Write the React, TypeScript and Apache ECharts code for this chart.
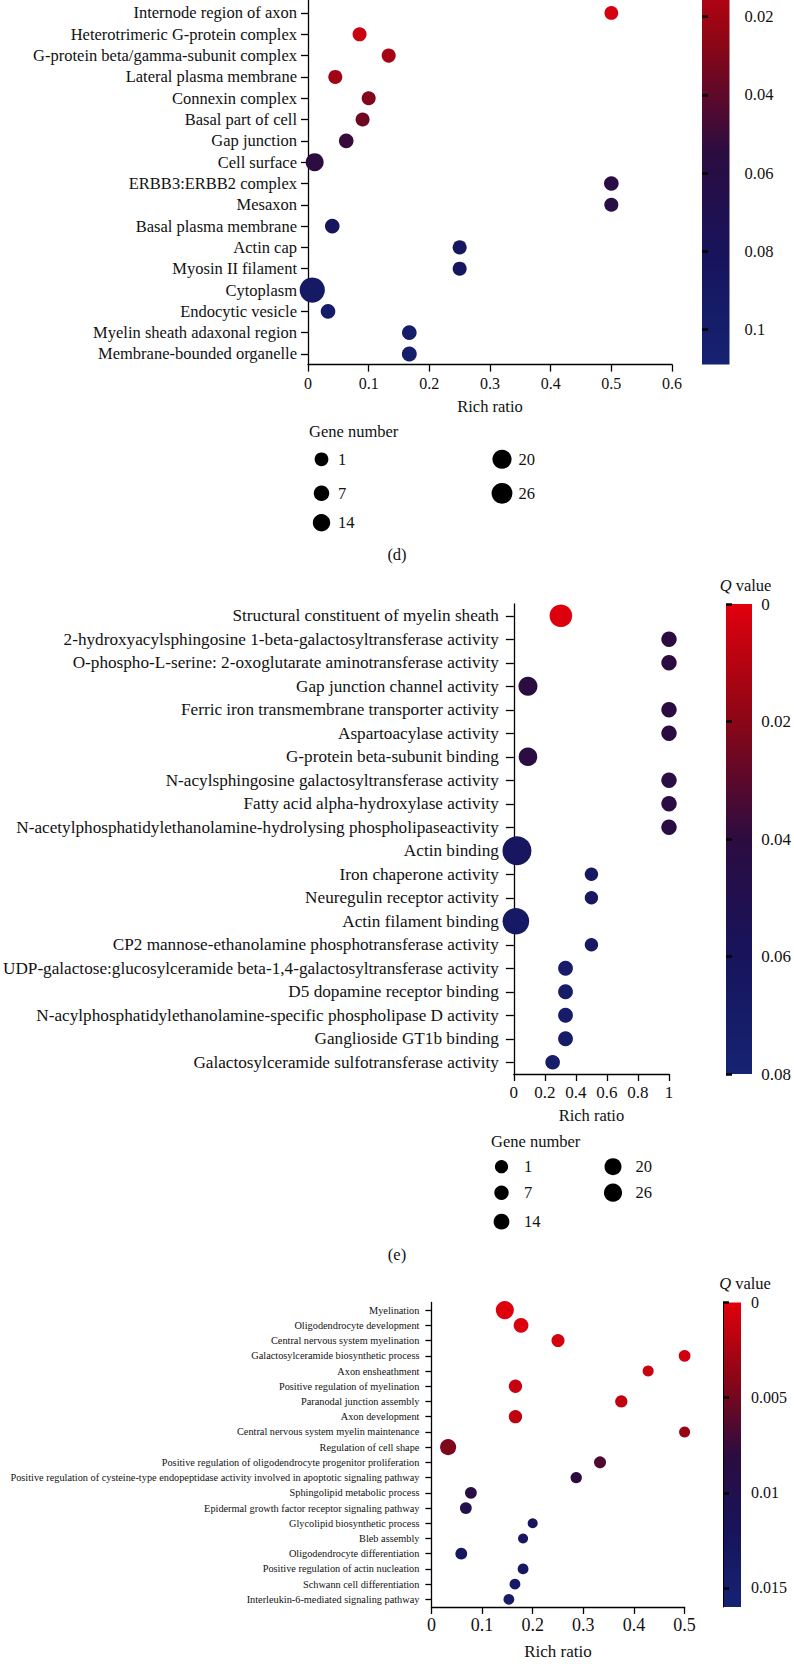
import React, { useEffect, useRef } from "react";
import * as echarts from "echarts";

const FONT = "'Liberation Serif', 'Times New Roman', serif";
const INK = "#111111";

// ---------- Panel (d): cellular component ----------
const dHiddenRows = [" ", "  ", "   "]; // rows cut off at the top of the figure
const dTerms = [
  "Internode region of axon",
  "Heterotrimeric G-protein complex",
  "G-protein beta/gamma-subunit complex",
  "Lateral plasma membrane",
  "Connexin complex",
  "Basal part of cell",
  "Gap junction",
  "Cell surface",
  "ERBB3:ERBB2 complex",
  "Mesaxon",
  "Basal plasma membrane",
  "Actin cap",
  "Myosin II filament",
  "Cytoplasm",
  "Endocytic vesicle",
  "Myelin sheath adaxonal region",
  "Membrane-bounded organelle",
];
const dRichRatio = [0.5, 0.085, 0.133, 0.045, 0.1, 0.09, 0.063, 0.011, 0.5, 0.5, 0.04, 0.25, 0.25, 0.007, 0.033, 0.167, 0.167];
const dQValue = [0.004, 0.007, 0.019, 0.02, 0.03, 0.035, 0.051, 0.055, 0.058, 0.059, 0.083, 0.087, 0.088, 0.093, 0.096, 0.1, 0.101];
const dGeneNumber = [1, 2, 2, 2, 2, 2, 4, 16, 4, 2, 4, 2, 2, 42, 4, 4, 5];
const dXTicks = { min: 0, max: 0.6, interval: 0.1 };
const dQMax = 0.109;
const dQTicks = [0.02, 0.04, 0.06, 0.08, 0.1];

// ---------- Panel (e): molecular function ----------
const eTerms = [
  "Structural constituent of myelin sheath",
  "2-hydroxyacylsphingosine 1-beta-galactosyltransferase activity",
  "O-phospho-L-serine: 2-oxoglutarate aminotransferase activity",
  "Gap junction channel activity",
  "Ferric iron transmembrane transporter activity",
  "Aspartoacylase activity",
  "G-protein beta-subunit binding",
  "N-acylsphingosine galactosyltransferase activity",
  "Fatty acid alpha-hydroxylase activity",
  "N-acetylphosphatidylethanolamine-hydrolysing phospholipaseactivity",
  "Actin binding",
  "Iron chaperone activity",
  "Neuregulin receptor activity",
  "Actin filament binding",
  "CP2 mannose-ethanolamine phosphotransferase activity",
  "UDP-galactose:glucosylceramide beta-1,4-galactosyltransferase activity",
  "D5 dopamine receptor binding",
  "N-acylphosphatidylethanolamine-specific phospholipase D activity",
  "Ganglioside GT1b binding",
  "Galactosylceramide sulfotransferase activity",
];
const eRichRatio = [0.303, 1, 1, 0.091, 1, 1, 0.091, 1, 1, 1, 0.02, 0.5, 0.5, 0.013, 0.5, 0.333, 0.333, 0.333, 0.333, 0.25];
const eQValue = [0.001, 0.04, 0.04, 0.041, 0.041, 0.041, 0.042, 0.042, 0.042, 0.042, 0.063, 0.065, 0.065, 0.066, 0.066, 0.07, 0.07, 0.07, 0.07, 0.073];
const eGeneNumber = [48, 12, 12, 30, 12, 12, 28, 12, 12, 12, 80, 2, 2, 68, 2, 9, 9, 9, 9, 8];
const eXTicks = { min: 0, max: 1, interval: 0.2 };
const eQMax = 0.08;
const eQTicks = [0, 0.02, 0.04, 0.06, 0.08];

// ---------- Panel (f): biological process ----------
const fTerms = [
  "Myelination",
  "Oligodendrocyte development",
  "Central nervous system myelination",
  "Galactosylceramide biosynthetic process",
  "Axon ensheathment",
  "Positive regulation of myelination",
  "Paranodal junction assembly",
  "Axon development",
  "Central nervous system myelin maintenance",
  "Regulation of cell shape",
  "Positive regulation of oligodendrocyte progenitor proliferation",
  "Positive regulation of cysteine-type endopeptidase activity involved in apoptotic signaling pathway",
  "Sphingolipid metabolic process",
  "Epidermal growth factor receptor signaling pathway",
  "Glycolipid biosynthetic process",
  "Bleb assembly",
  "Oligodendrocyte differentiation",
  "Positive regulation of actin nucleation",
  "Schwann cell differentiation",
  "Interleukin-6-mediated signaling pathway",
];
const fRichRatio = [0.145, 0.177, 0.25, 0.5, 0.428, 0.166, 0.375, 0.166, 0.5, 0.033, 0.333, 0.286, 0.078, 0.068, 0.2, 0.181, 0.059, 0.181, 0.165, 0.153];
const fQValue = [0.0001, 0.0003, 0.0006, 0.0008, 0.001, 0.0012, 0.0014, 0.0015, 0.0035, 0.0045, 0.0065, 0.0082, 0.0085, 0.0098, 0.012, 0.0125, 0.0128, 0.013, 0.0135, 0.014];
const fGeneNumber = [33, 20, 13, 8, 5, 14, 10, 14, 5, 25, 9, 6, 8, 8, 1, 1, 8, 4, 4, 4];
const fXTicks = { min: 0, max: 0.5, interval: 0.1 };
const fQMax = 0.016;
const fQTicks = [0, 0.005, 0.01, 0.015];

// Gene number legend entries
const geneLegendCol1 = [1, 7, 14];
const geneLegendCol2 = [20, 26];

// Colour scale (low Q = red, high Q = navy)
const Q_COLORS = ["#e1000d", "#8a0616", "#2c0c40", "#17145c", "#152372"];

const sizeD = (n: number) => 13.5 + 0.28 * n;
const sizeE = (n: number) => 13 + 0.2 * n;
const sizeF = (n: number) => 9.8 + 0.25 * n;

// The figure is cropped at the top: the canvas starts OFF px above the page.
const OFF = 80;

// Layout (page pixels; OFF is added when drawing)
const L = {
  d: { left: 308, top: -61.6, width: 364, height: 426.2, cb: { left: 702, width: 27.5 } },
  e: { left: 490, top: 604, width: 179, height: 470, cb: { left: 726, width: 26 } },
  f: { left: 431.4, top: 1302.5, width: 253.2, height: 304.5, cb: { left: 723, width: 18 } },
};

const axisLine = { show: true, onZero: false, lineStyle: { color: "#000", width: 1.3 } };
const axisTickStyle = { color: "#000", width: 1.3 };

function catAxis(gridIndex: number, data: string[], fontSize: number, margin: number, tickLen: number) {
  return {
    type: "category",
    gridIndex,
    data,
    inverse: true,
    axisLine,
    axisTick: { show: true, alignWithLabel: true, length: tickLen, lineStyle: axisTickStyle },
    axisLabel: { interval: 0, fontSize, fontFamily: FONT, color: INK, margin },
    splitLine: { show: false },
  };
}

function valAxis(gridIndex: number, t: { min: number; max: number; interval: number }, fontSize: number, margin: number, nameSize: number, nameGap: number) {
  return {
    type: "value",
    gridIndex,
    min: t.min,
    max: t.max,
    interval: t.interval,
    axisLine,
    axisTick: { show: true, length: 7, lineStyle: axisTickStyle },
    axisLabel: { fontSize, fontFamily: FONT, color: INK, margin, showMaxLabel: true, showMinLabel: true },
    splitLine: { show: false },
    name: "Rich ratio",
    nameLocation: "middle",
    nameGap,
    nameTextStyle: { fontSize: nameSize, fontFamily: FONT, color: INK },
  };
}

function cbAxis(gridIndex: number, max: number, ticks: number[], fontSize: number, margin: number, showLine: boolean) {
  return {
    type: "value",
    gridIndex,
    min: 0,
    max,
    inverse: true,
    position: "right",
    z: 10,
    axisLine: { show: showLine, lineStyle: { color: "#000", width: 1 } },
    axisTick: { show: true, length: 6, lineStyle: { color: "#000", width: 2.5 }, customValues: ticks },
    axisLabel: { fontSize, fontFamily: FONT, color: INK, margin, customValues: ticks },
    splitLine: { show: false },
  };
}

function scatter(idx: number, terms: string[], ratio: number[], q: number[], gene: number[], sizeFn: (n: number) => number) {
  return {
    type: "scatter",
    xAxisIndex: idx,
    yAxisIndex: idx,
    z: 5,
    data: terms.map((t, i) => [ratio[i], t, q[i], gene[i]]),
    encode: { x: 0, y: 1 },
    symbol: "circle",
    symbolSize: (v: any) => sizeFn(v[3]),
    itemStyle: { opacity: 1 },
  };
}

function gradientRect(p: any) {
  return {
    type: "rect",
    silent: true,
    z: 1,
    shape: { x: p.cb.left, y: p.top + OFF, width: p.cb.width, height: p.height },
    style: {
      fill: {
        type: "linear",
        x: 0,
        y: 0,
        x2: 0,
        y2: 1,
        colorStops: Q_COLORS.map((c, i) => ({ offset: i / (Q_COLORS.length - 1), color: c })),
      },
    },
  };
}

function qTitle(cx: number, cy: number) {
  return {
    type: "text",
    x: cx,
    y: cy + OFF,
    style: {
      text: "{q|Q} value",
      align: "center",
      verticalAlign: "middle",
      fontSize: 16.5,
      fontFamily: FONT,
      fill: INK,
      rich: { q: { fontStyle: "italic", fontSize: 16.5, fontFamily: FONT, fill: INK } },
    },
  };
}

function text(x: number, y: number, s: string, size: number, align = "left") {
  return {
    type: "text",
    x,
    y: y + OFF,
    style: { text: s, align, verticalAlign: "middle", fontSize: size, fontFamily: FONT, fill: INK },
  };
}

function geneLegend(titleX: number, titleY: number, col1X: number, col2X: number, rowsY: number[], labelDx: number, sizeFn: (n: number) => number) {
  const els: any[] = [text(titleX, titleY, "Gene number", 16.5)];
  geneLegendCol1.forEach((n, i) => {
    els.push({ type: "circle", shape: { cx: col1X, cy: rowsY[i] + OFF, r: sizeFn(n) / 2 }, style: { fill: "#000" } });
    els.push(text(col1X + labelDx, rowsY[i], String(n), 16.5));
  });
  geneLegendCol2.forEach((n, i) => {
    els.push({ type: "circle", shape: { cx: col2X, cy: rowsY[i] + OFF, r: sizeFn(n) / 2 }, style: { fill: "#000" } });
    els.push(text(col2X + labelDx, rowsY[i], String(n), 16.5));
  });
  return els;
}

export default function App() {
  const ref = useRef<HTMLDivElement>(null);

  useEffect(() => {
    if (!ref.current) return;
    const chart = echarts.init(ref.current, undefined, { renderer: "svg" });

    const box = (left: number, top: number, width: number, height: number) => ({
      left,
      top: top + OFF,
      width,
      height,
      containLabel: false,
      show: false,
    });

    const option: any = {
      animation: false,
      backgroundColor: "#ffffff",
      textStyle: { fontFamily: FONT },
      grid: [
        box(L.d.left, L.d.top, L.d.width, L.d.height),
        box(L.e.left, L.e.top, L.e.width, L.e.height),
        box(L.f.left, L.f.top, L.f.width, L.f.height),
        box(L.d.cb.left, L.d.top, L.d.cb.width, L.d.height),
        box(L.e.cb.left, L.e.top, L.e.cb.width, L.e.height),
        box(L.f.cb.left, L.f.top, L.f.cb.width, L.f.height),
      ],
      xAxis: [
        valAxis(0, dXTicks, 16, 11, 16.5, 33),
        valAxis(1, eXTicks, 17, 10, 16.5, 33),
        valAxis(2, fXTicks, 18, 9, 17, 36),
        { type: "value", gridIndex: 3, show: false },
        { type: "value", gridIndex: 4, show: false },
        { type: "value", gridIndex: 5, show: false },
      ],
      yAxis: [
        catAxis(0, [...dHiddenRows, ...dTerms], 16.5, 11, 7),
        catAxis(1, eTerms, 17.2, 15, 8),
        catAxis(2, fTerms, 10.3, 12, 6),
        cbAxis(3, dQMax, dQTicks, 16.5, 15, false),
        cbAxis(4, eQMax, eQTicks, 17, 15, false),
        cbAxis(5, fQMax, fQTicks, 16, 10, true),
      ],
      visualMap: [
        { type: "continuous", show: false, seriesIndex: 0, dimension: 2, min: 0, max: dQMax, inRange: { color: Q_COLORS } },
        { type: "continuous", show: false, seriesIndex: 1, dimension: 2, min: 0, max: eQMax, inRange: { color: Q_COLORS } },
        { type: "continuous", show: false, seriesIndex: 2, dimension: 2, min: 0, max: fQMax, inRange: { color: Q_COLORS } },
      ],
      series: [
        scatter(0, dTerms, dRichRatio, dQValue, dGeneNumber, sizeD),
        scatter(1, eTerms, eRichRatio, eQValue, eGeneNumber, sizeE),
        scatter(2, fTerms, fRichRatio, fQValue, fGeneNumber, sizeF),
      ],
      graphic: [
        gradientRect(L.d),
        gradientRect(L.e),
        gradientRect(L.f),
        qTitle(745.5, 585),
        qTitle(745, 1283.5),
        ...geneLegend(309, 431, 321.5, 502, [459.3, 493.3, 522.7], 16.5, sizeD),
        text(397, 554, "(d)", 16.5, "center"),
        ...geneLegend(491, 1141, 501.5, 613, [1166.7, 1192.7, 1221.7], 22.5, sizeE),
        text(397, 1254, "(e)", 16.5, "center"),
      ],
    };

    chart.setOption(option);
    return () => chart.dispose();
  }, []);

  return (
    <div
      ref={ref}
      style={{ position: "absolute", left: 0, top: -OFF, width: 794, height: 1664 + OFF, background: "#fff" }}
    />
  );
}
